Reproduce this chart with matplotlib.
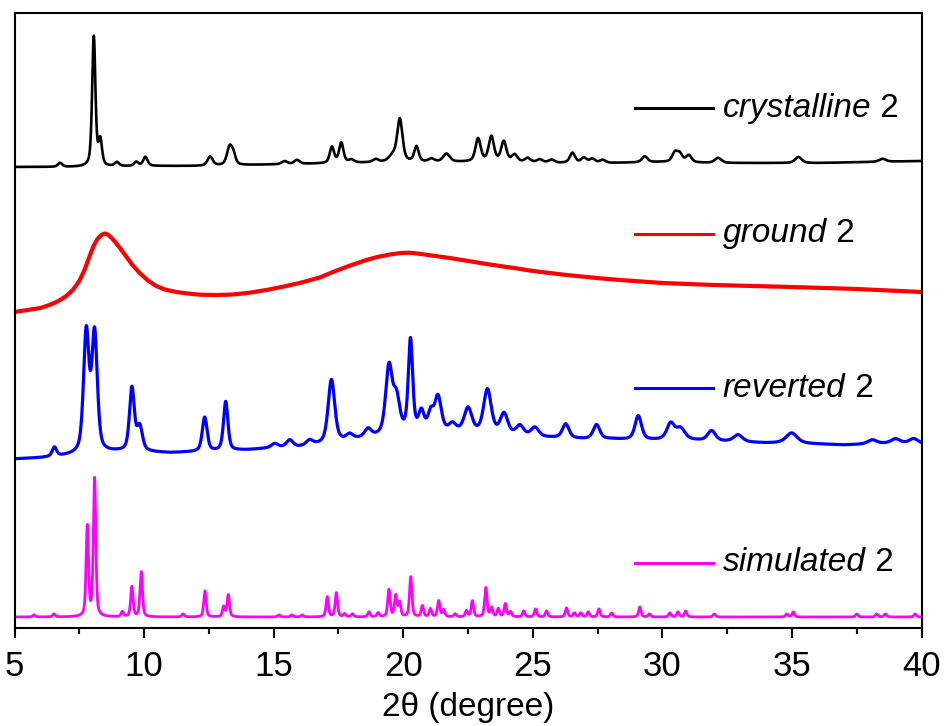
import numpy as np
import matplotlib
matplotlib.use("Agg")
import matplotlib.pyplot as plt
from matplotlib.ticker import MultipleLocator

plt.rcParams['font.family'] = ['Liberation Sans', 'DejaVu Sans']

# ---------------- data (heights in arbitrary stacked units) ----------------
# crystalline 2 (black): baseline knots and peaks (2theta, height, FWHM)
cry_base_x = [5, 8, 10, 12, 14, 16, 18, 20, 22, 24, 26, 28, 30, 32, 34, 36, 38, 40]
cry_base_y = [461, 461, 462, 462, 463, 464, 465, 466, 466, 466, 465, 465, 466, 465, 465, 465, 466, 467]
cry_pos = [6.76, 8.06, 8.31, 8.95, 9.70, 10.05, 12.55, 13.30, 13.45, 15.42, 15.90, 17.25, 17.61, 18.00,
           18.94, 19.60, 19.87, 20.51, 21.09, 21.67, 22.89, 23.40, 23.88, 24.30, 24.80, 25.27, 25.72,
           26.53, 26.97, 27.30, 27.70, 29.32, 30.48, 30.67, 31.02, 32.15, 35.25, 38.50]
cry_hgt = [4, 130, 25, 4, 4, 9, 9, 18, 9, 3, 4, 16, 20, 3,
           3, 6, 42, 15, 3, 8, 23, 25, 20, 7, 4, 3, 3,
           10, 5, 4, 3, 6, 9, 8, 7, 5, 6, 3]
cry_wid = [0.2, 0.15, 0.16, 0.2, 0.2, 0.2, 0.24, 0.24, 0.2, 0.25, 0.25, 0.2, 0.2, 0.25,
           0.25, 0.35, 0.24, 0.2, 0.25, 0.3, 0.24, 0.24, 0.24, 0.25, 0.25, 0.25, 0.25,
           0.24, 0.25, 0.25, 0.25, 0.25, 0.25, 0.25, 0.25, 0.3, 0.3, 0.3]

# ground 2 (red): curve points
gr_x = [5.0, 5.5, 6.0, 6.35, 6.7, 7.0, 7.25, 7.5, 7.7, 7.9, 8.05, 8.2, 8.35, 8.47, 8.6, 8.75,
        8.9, 9.1, 9.31, 9.55, 9.83, 10.15, 10.47, 10.8, 11.24, 11.7, 12.14, 12.8, 13.42, 14.0,
        14.72, 15.4, 16.0, 16.78, 17.29, 17.9, 18.58, 19.0, 19.48, 19.9, 20.25, 20.7, 21.15,
        21.8, 22.44, 23.1, 23.73, 24.4, 25.0, 26.3, 27.59, 28.36, 30.0, 32.0, 35.0, 37.5, 40.0]
gr_y = [316, 318, 320, 323, 327, 332, 338, 347, 358, 372, 382, 389, 393, 394.5, 393.5, 390,
        385.5, 379, 371.5, 363, 355, 347.5, 342, 338.5, 336, 334.5, 333.3, 333, 333.5, 335,
        338, 341.5, 345, 350.5, 356, 362, 368, 371, 373.5, 375, 375.3, 374, 372.3,
        370, 367.3, 364.5, 362, 359.5, 357, 353, 349.7, 348, 345, 343, 341, 339, 336]

# reverted 2 (blue): baseline knots and peaks
rev_base_x = [5, 6, 7, 8, 9, 10, 11, 12, 13, 14, 15, 16, 17, 18, 19, 20, 21, 22, 23, 24, 25, 26,
              27, 28, 29, 30, 31, 32, 33, 34, 35, 36, 37, 38, 39, 40]
rev_base_y = [169, 170, 172, 174, 176, 176, 175, 176, 177, 178, 180, 181, 184, 188, 191, 194, 196,
              196, 194, 192, 191, 190, 189, 189, 188, 188, 188, 187, 186, 185, 185, 184, 183, 184,
              185, 184]
rev_pos = [6.54, 7.77, 8.09, 9.53, 9.83, 12.34, 13.15, 15.04, 15.62, 16.39, 17.23, 17.93, 18.64,
           19.45, 19.74, 20.28, 20.70, 21.06, 21.34, 21.90, 22.50, 23.25, 23.89, 24.50, 25.08,
           26.27, 27.46, 29.07, 30.32, 30.70, 31.90, 32.92, 34.99, 38.10, 39.00, 39.70]
rev_hgt = [9, 120, 118, 63, 24, 34, 49, 4, 7, 5, 63, 5, 8,
           67, 34, 92, 19, 17, 34, 7, 24, 44, 21, 10, 9,
           14, 14, 24, 16, 11, 10, 7, 10, 4, 4, 5]
rev_wid = [0.2, 0.25, 0.25, 0.22, 0.25, 0.22, 0.2, 0.3, 0.3, 0.3, 0.3, 0.3, 0.3,
           0.3, 0.3, 0.2, 0.25, 0.25, 0.3, 0.3, 0.35, 0.35, 0.35, 0.35, 0.35,
           0.3, 0.3, 0.3, 0.35, 0.4, 0.35, 0.4, 0.5, 0.4, 0.4, 0.4]

# simulated 2 (magenta): baseline and peaks
sim_base = 11
sim_pos = [5.75, 6.52, 7.81, 8.09, 9.16, 9.53, 9.89, 11.50, 12.35, 13.07, 13.25, 15.20, 15.70, 16.10,
           17.07, 17.42, 17.74, 18.04, 18.68, 19.03, 19.45, 19.71, 19.86, 20.29, 20.74, 21.05,
           21.37, 21.56, 22.00, 22.44, 22.67, 23.19, 23.41, 23.67, 23.94, 24.14, 24.65, 25.11,
           25.53, 26.30, 26.60, 26.85, 27.14, 27.55, 28.04, 29.13, 29.50, 30.29, 30.60, 30.90,
           32.00, 34.80, 35.05, 37.50, 38.27, 38.60, 39.75]
sim_hgt = [2, 3, 90, 138, 5, 30, 45, 3, 26, 10, 22, 2, 2, 2,
           20, 24, 3, 3, 5, 4, 27, 21, 14, 40, 11, 8,
           16, 7, 3, 6, 16, 29, 9, 8, 13, 5, 6, 8,
           6, 9, 4, 4, 5, 8, 4, 10, 3, 4, 5, 6,
           3, 3, 5, 3, 3, 3, 3]
sim_wid = 0.11

labels = ['crystalline', 'ground', 'reverted', 'simulated']
colors = ['black', '#ff0000', '#0000ff', '#ff00ff']

xticks = [5, 10, 15, 20, 25, 30, 35, 40]


def profile(x, pos, hgt, wid, eta=0.5):
    y = np.zeros_like(x)
    if np.isscalar(wid):
        wid = [wid] * len(pos)
    for p, h, w in zip(pos, hgt, wid):
        hw = w / 2.0
        lor = 1.0 / (1.0 + ((x - p) / hw) ** 2)
        gau = np.exp(-np.log(2) * ((x - p) / hw) ** 2)
        y += h * (eta * lor + (1 - eta) * gau)
    return y


x = np.linspace(5, 40, 7001)
y_cry = np.interp(x, cry_base_x, cry_base_y) + profile(x, cry_pos, cry_hgt, cry_wid)
y_rev = np.interp(x, rev_base_x, rev_base_y) + profile(x, rev_pos, rev_hgt, rev_wid)
y_sim = sim_base + profile(x, sim_pos, sim_hgt, sim_wid)

# ---------------- figure ----------------
fig = plt.figure(figsize=(9.46, 7.26), dpi=100)
ax = fig.add_axes([14.5 / 946, 98 / 726, 907 / 946, 615 / 726])

ax.plot(x, y_cry, color=colors[0], lw=1.9)
ax.plot(gr_x, gr_y, color=colors[1], lw=3.0)
ax.plot(x, y_rev, color=colors[2], lw=2.3)
ax.plot(x, y_sim, color=colors[3], lw=2.0)

ax.set_xlim(5, 40)
ax.set_ylim(0, 615)
ax.set_yticks([])
ax.xaxis.set_major_locator(MultipleLocator(5))
ax.xaxis.set_minor_locator(MultipleLocator(2.5))
ax.set_xticks(xticks)
ax.set_xticklabels([str(t) for t in xticks])
ax.tick_params(axis='x', which='major', direction='out', length=7, width=1.5,
               labelsize=25, pad=9, top=False)
ax.tick_params(axis='x', which='minor', direction='out', length=4.5, width=1.5, top=False)
for s in ax.spines.values():
    s.set_linewidth(1.5)
ax.set_xlabel('2θ (degree)', fontsize=24, labelpad=6)

# stacked labels next to each trace
leg_y = [0.8455, 0.6407, 0.390, 0.1057]
for lab, col, yy in zip(labels, colors, leg_y):
    ax.plot([0.684, 0.770], [yy, yy], transform=ax.transAxes, color=col, lw=2.2, clip_on=False)
    ax.text(0.781, yy, lab, transform=ax.transAxes, fontsize=24, style='italic',
            va='center', ha='left')

# append " 2" in upright style after italic names
fig.canvas.draw()
r = fig.canvas.get_renderer()
for t in list(ax.texts):
    if t.get_style() == 'italic':
        bb = t.get_window_extent(renderer=r)
        x_ax = ax.transAxes.inverted().transform((bb.x1, bb.y0))[0]
        ax.text(x_ax, t.get_position()[1], ' 2', transform=ax.transAxes, fontsize=24,
                va='center', ha='left')

fig.savefig('out.png', dpi=100)
